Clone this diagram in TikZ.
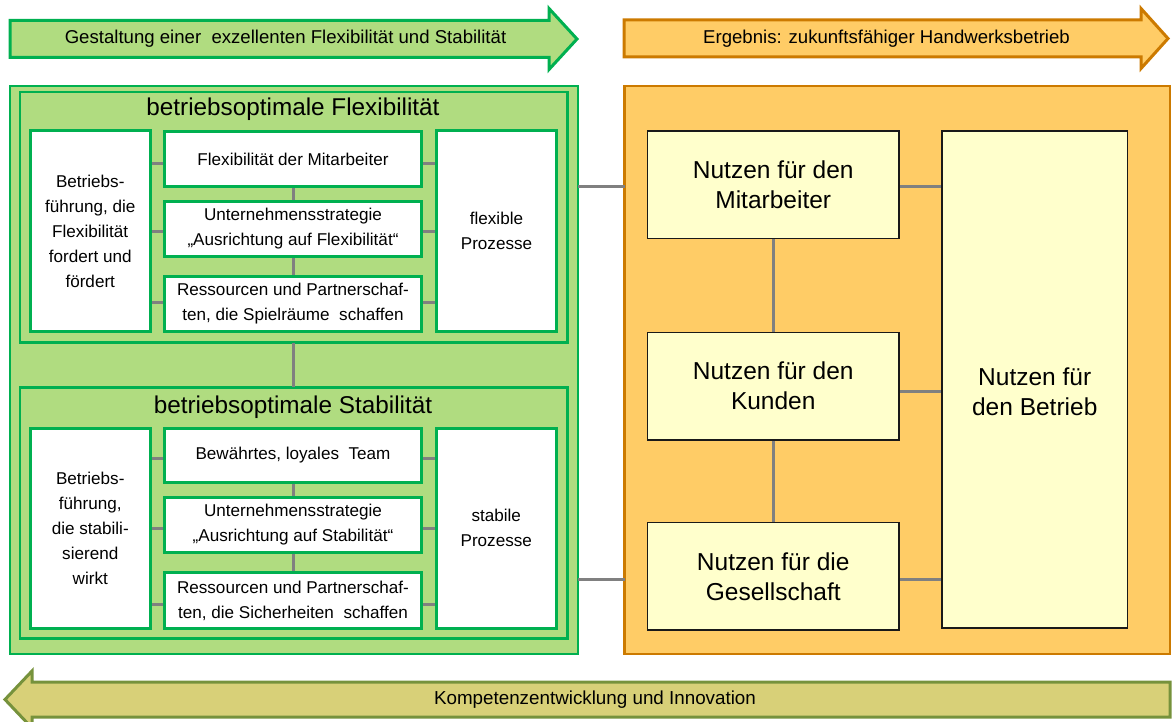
\documentclass[tikz,border=0pt]{standalone}
\usepackage{fontspec}
\setmainfont{Liberation Sans}
\definecolor{lgreen}{RGB}{176,220,128}
\definecolor{dgreen}{RGB}{0,176,80}
\definecolor{lorange}{RGB}{255,204,102}
\definecolor{dorange}{RGB}{204,122,0}
\definecolor{lyellow}{RGB}{255,255,204}
\definecolor{olivefill}{RGB}{216,208,120}
\definecolor{oliveline}{RGB}{118,146,60}
\definecolor{linkgray}{RGB}{128,128,128}
\pgfdeclarelayer{panels}
\pgfdeclarelayer{links}
\pgfsetlayers{panels,links,main}
\tikzset{
  panel/.style={draw=dgreen, fill=lgreen, line width=2.5pt, inner sep=0pt, outer sep=0pt},
  opanel/.style={draw=dorange, fill=lorange, line width=2.5pt, inner sep=0pt, outer sep=0pt},
  wbox/.style={draw=dgreen, fill=white, line width=3pt, inner sep=0pt, outer sep=0pt,
    align=center, font=\fontsize{17.1}{25}\selectfont},
  ybox/.style={draw=black!90, fill=lyellow, line width=1.5pt, inner sep=0pt, outer sep=0pt,
    align=center, font=\fontsize{24.5}{30}\selectfont},
  paneltitle/.style={inner sep=0pt, font=\fontsize{24.3}{29}\selectfont},
  arrowtext/.style={inner sep=0pt, font=\fontsize{18.6}{22}\selectfont},
  link/.style={draw=linkgray, line width=3pt},
  bigarrow/.style={line width=3pt, line join=miter},
}
\begin{document}
\begin{tikzpicture}[x=1pt,y=-1pt]
\useasboundingbox (0,0) rectangle (1173,722);

% --- banner arrows ---
\path[bigarrow, draw=dgreen, fill=lgreen]
  (10,20.5) -- (549,20.5) -- (549,8.5) -- (577,39) -- (549,69.5) -- (549,57.5) -- (10,57.5) -- cycle;
\node[arrowtext] (gestaltung) at (285.5,39) {Gestaltung einer\ \ exzellenten Flexibilität und Stabilität};

\path[bigarrow, draw=dorange, fill=lorange]
  (624,20) -- (1141,20) -- (1141,8.5) -- (1168,38.5) -- (1141,68.5) -- (1141,57) -- (624,57) -- cycle;
\node[arrowtext] (ergebnis) at (886.5,39) {Ergebnis: zukunftsfähiger Handwerksbetrieb};

\path[bigarrow, draw=oliveline, fill=olivefill]
  (1170,682) -- (32,682) -- (32,671) -- (5,699.5) -- (32,728) -- (32,717) -- (1170,717) -- cycle;
\node[arrowtext, font=\fontsize{18.8}{22}\selectfont] (kompetenz) at (595,700) {Kompetenzentwicklung und Innovation};

% --- panels ---
\begin{pgfonlayer}{panels}
\node[panel, minimum width=568pt, minimum height=568pt] (green) at (294,370) {};
\node[opanel, minimum width=545.5pt, minimum height=568pt] (orange) at (897.25,370) {};
\node[panel, minimum width=547.5pt, minimum height=250.7pt] (flex) at (293.75,217.35) {};
\node[panel, minimum width=547.5pt, minimum height=251pt] (stab) at (293.75,512.8) {};
\end{pgfonlayer}

\node[paneltitle, anchor=base] (flextitle) at (293,116) {betriebsoptimale Flexibilität};
\node[paneltitle, anchor=base] (stabtitle) at (293,413) {betriebsoptimale Stabilität};

% --- flexibility boxes ---
\node[wbox, minimum width=120.5pt, minimum height=200.7pt] (fl) at (90.25,231.35)
  {Betriebs-\\führung, die\\Flexibilität\\fordert und\\fördert};
\node[wbox, minimum width=257pt, minimum height=55pt] (fa) at (293,159)
  {Flexibilität der Mitarbeiter};
\node[wbox, minimum width=257pt, minimum height=55pt] (fb) at (293,229)
  {Unternehmensstrategie\\„Ausrichtung auf Flexibilität“};
\node[wbox, minimum width=257pt, minimum height=55pt] (fc) at (293,304)
  {Ressourcen und Partnerschaf-\\ten, die Spielräume\ \ schaffen};
\node[wbox, minimum width=120pt, minimum height=200.5pt] (fr) at (496.5,231.25)
  {flexible\\Prozesse};

% --- stability boxes ---
\node[wbox, minimum width=120.5pt, minimum height=200.3pt] (sl) at (90.25,528.15)
  {Betriebs-\\führung,\\die stabili-\\sierend\\wirkt};
\node[wbox, minimum width=257pt, minimum height=53.5pt] (sa) at (293,455.25)
  {Bewährtes, loyales\ \ Team};
\node[wbox, minimum width=257pt, minimum height=55.4pt] (sb) at (293,525)
  {Unternehmensstrategie\\„Ausrichtung auf Stabilität“};
\node[wbox, minimum width=257pt, minimum height=55.6pt] (sc) at (293,600.5)
  {Ressourcen und Partnerschaf-\\ten, die Sicherheiten\ \ schaffen};
\node[wbox, minimum width=120.5pt, minimum height=200.3pt] (sr) at (496.25,528.15)
  {stabile\\Prozesse};

% --- benefit boxes ---
\node[ybox, minimum width=251.5pt, minimum height=107.3pt] (nm) at (773.25,184.65)
  {Nutzen für den\\Mitarbeiter};
\node[ybox, minimum width=251.5pt, minimum height=107.5pt] (nk) at (773.25,386.15)
  {Nutzen für den\\Kunden};
\node[ybox, minimum width=251.5pt, minimum height=107.5pt] (ng) at (773.25,576.35)
  {Nutzen für die\\Gesellschaft};
\node[ybox, minimum width=185.5pt, minimum height=497pt] (nb) at (1034.75,379.5) {};
\node[ybox, draw=none, fill=none] (nbtext) at (1034.75,392) {Nutzen für\\den Betrieb};

% --- connector levels ---
\coordinate (f1) at (0,164);
\coordinate (f2) at (0,231.5);
\coordinate (f3) at (0,302);
\coordinate (s1) at (0,458);
\coordinate (s2) at (0,528);
\coordinate (s3) at (0,604);
\coordinate (o1) at (0,187);
\coordinate (o2) at (0,579);
\coordinate (b2) at (0,391.5);

\begin{pgfonlayer}{links}
\foreach \lv/\bx/\lb/\rb in {f1/fa/fl/fr, f2/fb/fl/fr, f3/fc/fl/fr,
                             s1/sa/sl/sr, s2/sb/sl/sr, s3/sc/sl/sr} {
  \draw[link] (\lb.east |- \lv) -- (\bx.west |- \lv);
  \draw[link] (\bx.east |- \lv) -- (\rb.west |- \lv);
}
\draw[link] (fa.south) -- (fb.north);
\draw[link] (fb.south) -- (fc.north);
\draw[link] (sa.south) -- (sb.north);
\draw[link] (sb.south) -- (sc.north);
\draw[link] (flex.south -| fa.south) -- (stab.north -| sa.north);
\draw[link] (green.east |- o1) -- (orange.west |- o1);
\draw[link] (green.east |- o2) -- (orange.west |- o2);
\draw[link] (nm.south) -- (nk.north);
\draw[link] (nk.south) -- (ng.north);
\draw[link] (nm.east |- o1) -- (nb.west |- o1);
\draw[link] (nk.east |- b2) -- (nb.west |- b2);
\draw[link] (ng.east |- o2) -- (nb.west |- o2);
\end{pgfonlayer}
\end{tikzpicture}
\end{document}
